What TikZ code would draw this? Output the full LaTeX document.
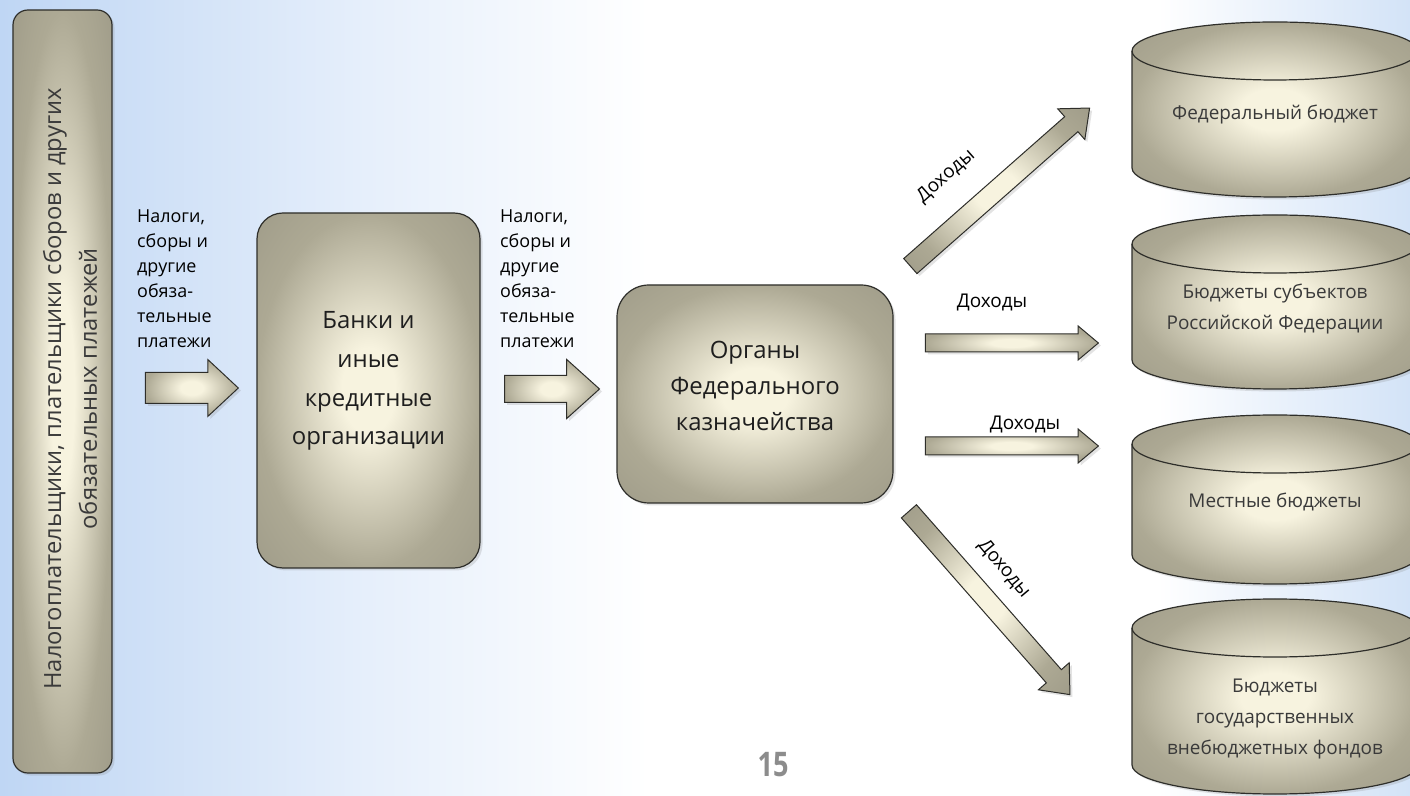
\documentclass[tikz,border=0pt]{standalone}
\usepackage{fontspec}
\setmainfont{Open Sans}
\usepackage{tikz}
\usetikzlibrary{positioning,shapes.arrows,shadows}
\definecolor{linec}{HTML}{2E2E2A}
\definecolor{creamc}{HTML}{F7F3DF}
\definecolor{khakic}{HTML}{ADA994}
\definecolor{khakid}{HTML}{8E8B7B}
\definecolor{bgblue}{HTML}{BFD6F4}
\definecolor{bgpale}{HTML}{E6EFFB}
\definecolor{bgright}{HTML}{D3E3F7}
\definecolor{boxtxt}{HTML}{1E1E1E}
\definecolor{cyltxt}{HTML}{3A3A3A}
\definecolor{numc}{HTML}{8C8C8C}
\pgfdeclareradialshading{khaki}{\pgfpoint{0bp}{0bp}}{%
  color(0bp)=(creamc); color(6bp)=(creamc); color(25bp)=(khakic); color(50bp)=(khakid)}
\pgfdeclarehorizontalshading{slide}{100bp}{%
  color(0bp)=(bgblue); color(25bp)=(bgblue); color(38bp)=(bgpale); color(48bp)=(white);
  color(66bp)=(white); color(75bp)=(bgright); color(100bp)=(bgright)}
\tikzset{
  soft/.style={drop shadow={opacity=0.22,shadow xshift=2.5bp,shadow yshift=-2.5bp}},
  box/.style={soft,draw=linec,line width=1.2bp,shading=khaki,rounded corners=26bp},
  barrow/.style={soft,single arrow,draw=linec,line width=1bp,shading=khaki,inner xsep=0pt},
  cyl/.style={soft,draw=linec,line width=1.2bp,shading=khaki},
  flowlbl/.style={font=\fontsize{18}{25}\selectfont,align=left,inner sep=0pt},
  incomelbl/.style={font=\fontsize{19}{22}\selectfont,inner sep=0pt},
  boxtext/.style={font=\fontsize{24}{39}\selectfont,align=center,text=boxtxt},
  cyltext/.style={font=\fontsize{19}{31}\selectfont,align=center,text=cyltxt},
  every node/.style={font=\small}
}

\begin{document}
\begin{tikzpicture}[x=1bp,y=1bp]
  \useasboundingbox (0,0) rectangle (1410,795);
  \shade[shading=slide] (0,0) rectangle (1410,795);

  \node[box,rounded corners=15bp,minimum width=99bp,minimum height=763bp] (payers) at (62.5,403.5) {};
  \node[font=\fontsize{23.8}{36}\selectfont,align=center,text=cyltxt,rotate=90] (payerstext) at (70,406)
    {Налогоплательщики, плательщики сборов и других\\обязательных платежей};

  \node[box,minimum width=223bp,minimum height=355bp] (bank) at (368.5,404.5) {};
  \node[boxtext] (banktext) at ([yshift=9.5bp]bank.center) {Банки и\\иные\\кредитные\\организации};

  \node[box,rounded corners=32bp,minimum width=276bp,minimum height=218bp] (treasury) at (755,401) {};
  \node[boxtext,font=\fontsize{24}{36}\selectfont] (treasurytext) at ([yshift=8bp]treasury.center)
    {Органы\\Федерального\\казначейства};

  \node[flowlbl,anchor=north west] (lblpay) at (137,585) {Налоги,\\сборы и\\другие\\обяза-\\тельные\\платежи};
  \node[flowlbl,anchor=north west] (lblbank) at (500,585) {Налоги,\\сборы и\\другие\\обяза-\\тельные\\платежи};

  \node[barrow,inner ysep=15bp,single arrow head extend=13bp,single arrow tip angle=86,
    minimum height=93bp] (a1) at (183.5,407) {};
  \node[barrow,inner ysep=13bp,single arrow head extend=16bp,single arrow tip angle=84,
    minimum height=95bp] (a2) at (544.5,406) {};

  \node[barrow,inner ysep=9.5bp,single arrow head extend=10.5bp,single arrow tip angle=80,
    minimum height=239bp,rotate=41.4] (tofed) at (995.5,604) {};
  \node[barrow,inner ysep=8.5bp,single arrow head extend=8bp,single arrow tip angle=80,
    minimum height=173bp] (toreg) at (1006.5,452) {};
  \node[barrow,inner ysep=8.5bp,single arrow head extend=8bp,single arrow tip angle=80,
    minimum height=173bp] (toloc) at (1006.5,349) {};
  \node[barrow,inner ysep=9.5bp,single arrow head extend=10.5bp,single arrow tip angle=80,
    minimum height=244bp,rotate=-48.7] (tofund) at (985.5,196.5) {};

  \node[incomelbl,rotate=41.4] (lblfed) at (946,619) {Доходы};
  \node[incomelbl] (lblreg) at (992,492) {Доходы};
  \node[incomelbl] (lblloc) at (1025,370) {Доходы};
  \node[incomelbl,rotate=-50] (lblfund) at (1004,226) {Доходы};

  \foreach \yt/\yb in {744/627,551/435,351/240,167/30}{
    \draw[cyl] (1132,\yt) -- (1132,\yb) arc[start angle=180,end angle=360,x radius=143,y radius=29]
      -- (1418,\yt) arc[start angle=0,end angle=180,x radius=143,y radius=29] -- cycle;
    \draw[draw=linec,line width=1.2bp] (1132,\yt) arc[start angle=180,end angle=360,x radius=143,y radius=29];
  }
  \node[cyltext] (fed) at (1275,680) {Федеральный бюджет};
  \node[cyltext] (reg) at (1275,486) {Бюджеты субъектов\\Российской Федерации};
  \node[cyltext] (loc) at (1275,293) {Местные бюджеты};
  \node[cyltext] (fund) at (1275,76) {Бюджеты\\государственных\\внебюджетных фондов};

  \node[font=\bfseries\fontsize{34}{36}\selectfont,text=numc,xscale=0.8] (page) at (773,30) {15};
\end{tikzpicture}
\end{document}
